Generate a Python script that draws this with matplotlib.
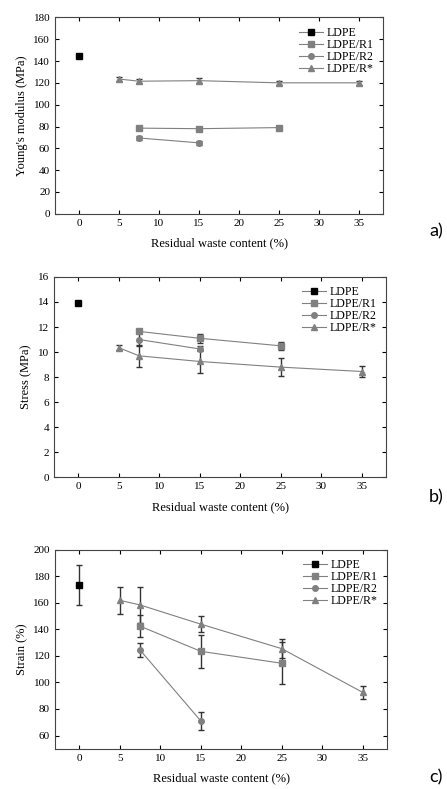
import matplotlib
matplotlib.use("Agg")
import matplotlib.pyplot as plt
from matplotlib.lines import Line2D

plt.rcParams['font.family'] = ['Liberation Serif', 'DejaVu Serif']

# x positions (residual waste content, %)
x_ldpe = [0]
x_r1 = [7.5, 15, 25]
x_r2 = [7.5, 15]
x_rs = [5, 7.5, 15, 25, 35]

# a) Young's modulus (MPa)
ym_ldpe = [145]
ym_ldpe_err = [1.5]
ym_r1 = [78.5, 78, 79]
ym_r1_err = [1.5, 1.5, 1.5]
ym_r2 = [69.5, 65]
ym_r2_err = [1.5, 1.5]
ym_rs = [123.5, 121.5, 122, 120, 120]
ym_rs_err = [2, 2, 2.5, 2, 2]

# b) Stress (MPa)
st_ldpe = [13.9]
st_ldpe_err = [0.1]
st_r1 = [11.65, 11.1, 10.5]
st_r1_err = [0.15, 0.35, 0.3]
st_r2 = [11.0, 10.25]
st_r2_err = [0.5, 0.2]
st_rs = [10.35, 9.7, 9.25, 8.8, 8.45]
st_rs_err = [0.2, 0.9, 0.9, 0.7, 0.45]

# c) Strain (%)
sn_ldpe = [173.5]
sn_ldpe_err = [15]
sn_r1 = [142.5, 123.5, 114.5]
sn_r1_err = [8.5, 12.5, 16]
sn_r2 = [124.5, 71]
sn_r2_err = [5.5, 6.5]
sn_rs = [162, 158.5, 144, 125.5, 92.5]
sn_rs_err = [10, 13.5, 6, 7, 5]

labels = ["LDPE", "LDPE/R1", "LDPE/R2", "LDPE/R*"]
gray = "#808080"

panels = [
    ([0.123, 0.729, 0.734, 0.249], "Young's modulus (MPa)", (0, 180), range(0, 181, 20),
     [ym_ldpe, ym_r1, ym_r2, ym_rs], [ym_ldpe_err, ym_r1_err, ym_r2_err, ym_rs_err], "a)", 0.696),
    ([0.121, 0.395, 0.743, 0.254], "Stress (MPa)", (0, 16), range(0, 17, 2),
     [st_ldpe, st_r1, st_r2, st_rs], [st_ldpe_err, st_r1_err, st_r2_err, st_rs_err], "b)", 0.360),
    ([0.123, 0.051, 0.743, 0.252], "Strain (%)", (50, 200), range(60, 201, 20),
     [sn_ldpe, sn_r1, sn_r2, sn_rs], [sn_ldpe_err, sn_r1_err, sn_r2_err, sn_rs_err], "c)", 0.005),
]

xs = [x_ldpe, x_r1, x_r2, x_rs]
markers = ["s", "s", "o", "^"]
colors = ["black", gray, gray, gray]

fig = plt.figure(figsize=(4.47, 7.89), dpi=100)

for rect, ylabel, ylim, yticks, ys, errs, tag, tag_y in panels:
    ax = fig.add_axes(rect)
    handles = []
    for x, y, e, m, c, lab in zip(xs, ys, errs, markers, colors, labels):
        ax.errorbar(x, y, yerr=e, fmt="-" + m, color=gray, mfc=c, mec=c, ms=4,
                    lw=0.8, ecolor="#333333", elinewidth=1, capsize=2, capthick=1)
        handles.append(Line2D([], [], color=gray, lw=0.8, marker=m, mfc=c, mec=c,
                              ms=4, label=lab))
    ax.set_xlim(-3, 38)
    ax.set_ylim(*ylim)
    ax.set_xticks([0, 5, 10, 15, 20, 25, 30, 35])
    ax.set_yticks(list(yticks))
    ax.tick_params(direction="in", top=True, right=True, labelsize=8, length=3, width=0.8)
    for s in ax.spines.values():
        s.set_color("#444444")
        s.set_linewidth(0.8)
    ax.set_xlabel("Residual waste content (%)", fontsize=9, labelpad=7)
    ax.set_ylabel(ylabel, fontsize=9)
    ax.legend(handles=handles, loc="upper right", frameon=False, fontsize=8.6,
              handlelength=2.0, handletextpad=0.3, labelspacing=0.0, borderaxespad=0.4)
    fig.text(0.975, tag_y, tag, fontsize=13, family="Lato", ha="center", va="bottom")

fig.savefig("out.png", dpi=100)
